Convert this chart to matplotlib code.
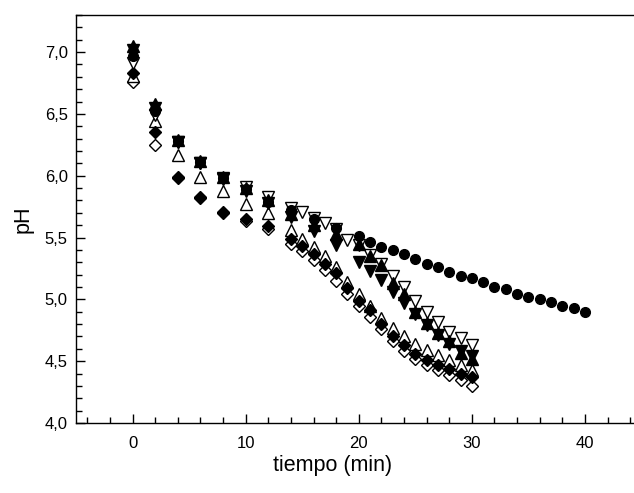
import matplotlib
matplotlib.use("Agg")
import matplotlib.pyplot as plt
from matplotlib.ticker import MultipleLocator, FuncFormatter

plt.rcParams['font.family'] = ['Liberation Sans', 'DejaVu Sans']

# tiempos de muestreo
t_circ = [0, 2, 4, 6, 8, 10, 12, 14, 16, 18, 20, 21, 22, 23, 24, 25, 26, 27, 28, 29, 30,
          31, 32, 33, 34, 35, 36, 37, 38, 39, 40]
t_tri = [0, 2, 4, 6, 8, 10, 12, 14, 16, 18, 20, 21, 22, 23, 24, 25, 26, 27, 28, 29, 30]
t_full = [0, 2, 4, 6, 8, 10, 12, 14, 15, 16, 17, 18, 19, 20, 21, 22, 23, 24, 25, 26, 27, 28, 29, 30]

# pH
ph_circ = [6.97, 6.52, 6.28, 6.11, 5.98, 5.89, 5.79, 5.72, 5.65, 5.58, 5.51, 5.46, 5.42, 5.40,
           5.37, 5.33, 5.29, 5.26, 5.22, 5.19, 5.17, 5.14, 5.10, 5.08, 5.04, 5.02, 5.00, 4.98,
           4.95, 4.93, 4.90]
ph_up = [7.05, 6.58, 6.29, 6.12, 5.99, 5.90, 5.80, 5.69, 5.60, 5.53, 5.45, 5.35, 5.28, 5.13,
         5.04, 4.90, 4.81, 4.73, 4.66, 4.57, 4.52]
ph_down = [7.02, 6.55, 6.27, 6.10, 5.97, 5.88, 5.78, 5.67, 5.55, 5.44, 5.30, 5.23, 5.16, 5.06,
           4.97, 4.88, 4.79, 4.71, 4.64, 4.58, 4.54]
ph_down_open = [6.91, 6.49, 6.27, 6.10, 5.98, 5.91, 5.83, 5.74, 5.71, 5.66, 5.62, 5.57, 5.48,
                5.44, 5.36, 5.29, 5.19, 5.10, 4.99, 4.90, 4.82, 4.74, 4.69, 4.63]
ph_up_open = [6.81, 6.44, 6.17, 5.99, 5.88, 5.77, 5.70, 5.56, 5.49, 5.42, 5.35, 5.26, 5.14,
              5.04, 4.95, 4.85, 4.77, 4.70, 4.64, 4.59, 4.55, 4.51, 4.47, 4.43]
ph_diam = [6.83, 6.35, 5.99, 5.83, 5.71, 5.65, 5.59, 5.49, 5.43, 5.37, 5.29, 5.21, 5.09,
           4.99, 4.91, 4.80, 4.70, 4.63, 4.56, 4.51, 4.47, 4.44, 4.40, 4.37]
ph_diam_open = [6.76, 6.25, 5.98, 5.82, 5.70, 5.63, 5.57, 5.45, 5.39, 5.32, 5.24, 5.15, 5.04,
                4.95, 4.86, 4.76, 4.66, 4.58, 4.52, 4.47, 4.43, 4.39, 4.35, 4.30]

fig = plt.figure(figsize=(6.34, 4.93), dpi=100)
ax = fig.add_axes([76 / 634, 70 / 493, 565.5 / 634, 408 / 493])

abierto = dict(ls='none', mfc='white', mec='black', mew=1.0)
lleno = dict(ls='none', color='black')

ax.plot(t_full, ph_diam_open, marker='D', ms=6.5, **abierto)
ax.plot(t_full, ph_up_open, marker='^', ms=8, **abierto)
ax.plot(t_full, ph_diam, marker='D', ms=6.5, **lleno)
ax.plot(t_full, ph_down_open, marker='v', ms=8, **abierto)
ax.plot(t_circ, ph_circ, marker='o', ms=7, **lleno)
ax.plot(t_tri, ph_up, marker='^', ms=8, **lleno)
ax.plot(t_tri, ph_down, marker='v', ms=8, **lleno)

ax.set_xlim(-5, 45)
ax.set_ylim(4.0, 7.3)
ax.xaxis.set_major_locator(MultipleLocator(10))
ax.xaxis.set_minor_locator(MultipleLocator(2))
ax.yaxis.set_major_locator(MultipleLocator(0.5))
ax.yaxis.set_minor_locator(MultipleLocator(0.1))
ax.yaxis.set_major_formatter(FuncFormatter(lambda v, p: f"{v:.1f}".replace('.', ',')))

ax.tick_params(which='both', direction='in', top=False, right=False, width=1, labelsize=12)
ax.tick_params(which='major', length=6.5)
ax.tick_params(which='minor', length=4)
ax.tick_params(axis='x', which='major', pad=9)
ax.tick_params(axis='y', which='major', pad=6)
ax.spines['right'].set_visible(False)
for s in ('left', 'bottom', 'top'):
    ax.spines[s].set_linewidth(1)

ax.set_xlabel('tiempo (min)', fontsize=15.5)
ax.set_ylabel('pH', fontsize=15.5)
ax.xaxis.set_label_coords(0.453, -0.079)
ax.yaxis.set_label_coords(-0.075, 0.5)

fig.savefig('out.png', dpi=100)
